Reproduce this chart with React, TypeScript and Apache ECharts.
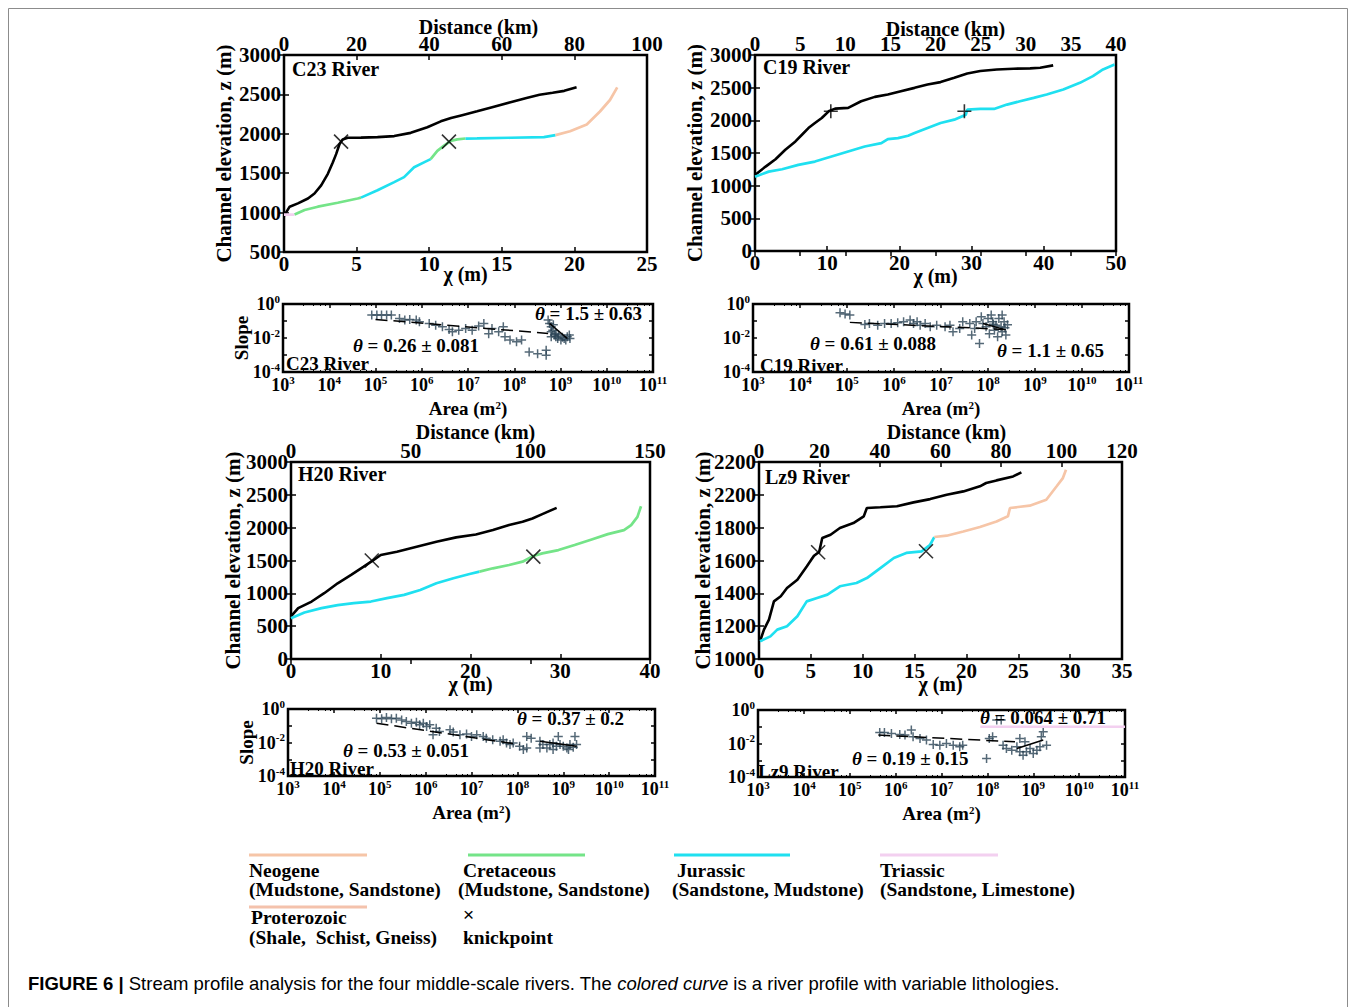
import React, { useEffect, useRef } from "react";
import * as echarts from "echarts";

const SERIF = "'Liberation Serif', 'Times New Roman', Times, serif";
const SANS = "'Liberation Sans', Arial, Helvetica, sans-serif";

// ---------- profile data: [chi (m), elevation z (m)] ----------
const c23Trunk = [[0,958],[0.39,1075],[0.96,1117],[1.65,1179],[2.1,1242],[2.56,1346],[3.02,1492],[3.36,1637],[3.59,1742],[3.82,1867],[4.04,1929],[4.39,1950],[5.3,1952],[6.44,1958],[7.59,1971],[8.73,2012],[9.87,2083],[10.8,2158],[11.5,2200],[12.2,2233],[13.3,2285],[14.4,2340],[15.6,2400],[16.7,2455],[17.6,2495],[18.5,2520],[19.3,2545],[20.15,2590]];
const c23Triassic = [[0,975],[0.73,975]];
const c23Cretaceous1 = [[0.73,975],[1.42,1033],[2.33,1075],[3.7,1125],[5.07,1179],[5.3,1190]];
const c23Jurassic1 = [[5.3,1190],[6.44,1283],[7.59,1387],[8.27,1450],[8.96,1575],[9.64,1637],[10.1,1679]];
const c23Cretaceous2 = [[10.1,1679],[10.56,1783],[11.0,1846],[11.47,1908],[11.93,1929],[12.5,1940]];
const c23Jurassic2 = [[12.5,1940],[13.3,1942],[15.6,1950],[17.9,1958],[18.7,1983]];
const c23Neogene = [[18.7,1983],[19.7,2033],[20.85,2117],[21.76,2283],[22.45,2429],[22.95,2590]];
const c23Knick = [[3.93,1900],[11.36,1900]];

const c19Trunk = [[0,1164],[1.47,1292],[2.84,1405],[4.2,1549],[5.6,1677],[6.5,1779],[7.4,1882],[8.3,1959],[9.25,2036],[10.2,2138],[11.1,2179],[12.9,2190],[14.7,2292],[16.6,2359],[18.4,2395],[20.2,2446],[22.1,2497],[23.9,2549],[25.7,2585],[27.6,2651],[29.4,2718],[31.2,2754],[33.5,2779],[35.8,2790],[38.1,2795],[39.5,2805],[41.3,2841]];
const c19Jurassic = [[0,1138],[1.9,1215],[3.75,1251],[6.0,1318],[8.3,1369],[10.6,1446],[12.9,1523],[15.2,1600],[17.5,1651],[18.4,1713],[19.8,1728],[21.2,1764],[22.1,1805],[23.9,1882],[25.7,1959],[27.6,2010],[29.2,2087],[29.4,2164],[31.2,2174],[33.1,2174],[34.9,2241],[36.7,2292],[38.6,2344],[40.4,2395],[42.7,2472],[45.0,2574],[46.8,2677],[48.2,2779],[49.8,2856]];
const c19Knick = [[10.5,2140],[29.0,2140]];

const h20Trunk = [[0,648],[0.8,774],[2.3,875],[3.7,1002],[5.2,1153],[6.7,1280],[8.1,1406],[9.1,1497],[10.0,1583],[11.8,1634],[14.0,1710],[16.2,1786],[18.4,1852],[20.6,1897],[22.5,1963],[24.3,2039],[25.8,2089],[26.9,2140],[28.0,2206],[29.6,2302]];
const h20Jurassic = [[0,622],[1.5,708],[3.4,774],[5.2,820],[7.0,850],[8.9,875],[10.7,926],[12.6,976],[14.4,1052],[16.2,1153],[18.1,1229],[19.9,1295],[21.0,1330]];
const h20Cretaceous = [[21.0,1330],[22.5,1381],[24.3,1432],[25.8,1482],[27.0,1568],[28.0,1609],[29.8,1659],[31.6,1735],[33.5,1821],[35.3,1902],[37.1,1963],[37.9,2039],[38.6,2165],[39.0,2327]];
const h20Knick = [[9.0,1500],[27.0,1560]];

const lz9Trunk = [[0.1,1108],[0.48,1179],[0.96,1240],[1.44,1351],[2.1,1382],[2.7,1432],[3.7,1483],[4.6,1564],[5.3,1629],[5.8,1652],[6.1,1737],[6.9,1757],[7.8,1798],[9.1,1828],[10.1,1869],[10.4,1920],[11.7,1924],[13.3,1930],[14.9,1954],[16.5,1974],[18.1,2001],[19.7,2021],[21.3,2052],[21.9,2072],[22.9,2088],[24.5,2112],[25.3,2137]];
const lz9Jurassic = [[0.1,1108],[1.1,1138],[1.76,1179],[2.7,1199],[3.7,1260],[4.6,1351],[5.6,1372],[6.6,1392],[7.8,1443],[9.4,1463],[10.4,1493],[11.7,1554],[13.0,1615],[14.2,1646],[15.7,1656],[16.5,1696],[16.9,1743]];
const lz9Neogene = [[16.9,1743],[18.1,1751],[19.7,1777],[21.3,1804],[22.9,1838],[24.0,1869],[24.2,1920],[26.1,1934],[27.7,1970],[28.7,2052],[29.3,2102],[29.6,2153]];
const lz9Knick = [[5.7,1650],[16.1,1656]];
const lz9ZTicks = [1000, 1200, 1400, 1600, 1800, 2000, 2200];
const lz9ZLabels = ["1000", "1200", "1400", "1600", "1800", "2200", "2200"];

// ---------- slope-area data: [area (m2), slope] ----------
const c23SA = [[8.3e4,0.224],[1.07e5,0.224],[1.35e5,0.224],[1.74e5,0.224],[2.2e5,0.224],[3.3e5,0.142],[4.3e5,0.113],[5.5e5,0.124],[7.6e5,0.113],[8.9e5,0.091],[1.45e6,0.072],[2.0e6,0.057],[2.8e6,0.046],[3.9e6,0.032],[4.6e6,0.023],[6.3e6,0.029],[8.9e6,0.036],[1.23e7,0.029],[1.7e7,0.05],[2.2e7,0.072],[2.8e7,0.018],[3.3e7,0.036],[4.6e7,0.023],[5.8e7,0.046],[6.3e7,0.0117],[8.1e7,0.0075],[1.12e8,0.006],[1.44e8,0.0075],[2.1e8,0.0015],[3.2e8,0.0012],[4.9e8,0.0019],[4.9e8,0.00097],[5.4e8,0.113],[5.8e8,0.072],[6.3e8,0.046],[6.3e8,0.023],[6.8e8,0.029],[7.4e8,0.0148],[7.9e8,0.0117],[8.7e8,0.0093],[1.02e9,0.0075],[1.2e9,0.0093],[1.4e9,0.0117],[1.55e9,0.0148],[6.3e8,0.0117],[8.0e8,0.018],[9.0e8,0.0148],[1.1e9,0.011],[1.3e9,0.0075],[1.6e9,0.0093],[7.0e8,0.06]];
const c23FitLow = [[1.0e5,0.124],[5.4e8,0.0185]];
const c23FitHigh = [[5.8e8,0.072],[1.4e9,0.0093]];

const c19SA = [[7.1e4,0.31],[9.1e4,0.26],[1.15e5,0.224],[2.4e5,0.063],[3.0e5,0.072],[4.5e5,0.057],[6.3e5,0.072],[8.7e5,0.072],[1.2e6,0.079],[1.6e6,0.091],[2.2e6,0.113],[2.6e6,0.072],[3.1e6,0.091],[3.6e6,0.057],[4.6e6,0.072],[5.9e6,0.046],[8.1e6,0.057],[1.22e7,0.046],[1.55e7,0.057],[1.8e7,0.023],[2.5e7,0.036],[2.9e7,0.091],[4.1e7,0.072],[4.5e7,0.0148],[5.2e7,0.036],[5.6e7,0.091],[6.6e7,0.0047],[7.2e7,0.178],[7.8e7,0.072],[9.1e7,0.046],[1.0e8,0.142],[1.07e8,0.018],[1.17e8,0.224],[1.26e8,0.091],[1.37e8,0.029],[1.48e8,0.057],[1.6e8,0.0117],[1.7e8,0.142],[1.9e8,0.046],[2.0e8,0.023],[2.2e8,0.091],[2.4e8,0.0148],[2.0e8,0.224],[2.3e8,0.04],[2.6e8,0.06],[1.3e8,0.065]];
const c19FitLow = [[1.15e5,0.083],[2.2e8,0.032]];
const c19FitHigh = [[7.8e7,0.072],[2.4e8,0.03]];

const h20SA = [[8.5e4,0.28],[1.1e5,0.26],[1.4e5,0.31],[1.8e5,0.26],[2.3e5,0.28],[3.0e5,0.224],[3.8e5,0.178],[4.9e5,0.142],[6.3e5,0.162],[7.4e5,0.113],[8.9e5,0.142],[1.05e6,0.091],[1.23e6,0.113],[1.45e6,0.029],[1.7e6,0.072],[2.0e6,0.046],[3.4e6,0.057],[4.0e6,0.042],[5.6e6,0.029],[7.8e6,0.032],[1.0e7,0.023],[1.3e7,0.029],[1.8e7,0.023],[2.1e7,0.018],[2.9e7,0.0148],[4.2e7,0.0117],[4.9e7,0.0148],[5.8e7,0.0093],[6.9e7,0.0075],[8.1e7,0.0093],[1.12e8,0.006],[1.35e8,0.0038],[1.6e8,0.0047],[1.6e8,0.023],[2.0e8,0.018],[3.1e8,0.0117],[3.6e8,0.0075],[4.4e8,0.0047],[5.1e8,0.0075],[6.0e8,0.0093],[7.1e8,0.006],[8.5e8,0.0075],[1.0e9,0.006],[1.2e9,0.0047],[1.4e9,0.0075],[1.65e9,0.0052],[1.95e9,0.0075],[7.8e8,0.023],[1.8e9,0.023],[3.1e8,0.0047],[6.0e8,0.0038],[1.3e9,0.0038]];
const h20FitLow = [[8.5e4,0.142],[1.12e8,0.0075]];
const h20FitHigh = [[3.1e8,0.0117],[1.95e9,0.006]];

const lz9SA = [[4.5e5,0.046],[5.7e5,0.046],[8.1e5,0.04],[1.23e6,0.035],[1.6e6,0.032],[2.2e6,0.063],[2.4e6,0.025],[3.4e6,0.02],[4.7e6,0.016],[6.6e6,0.0087],[9.2e6,0.0079],[1.28e7,0.01],[1.8e7,0.0079],[2.5e7,0.0063],[2.9e7,0.0079],[9.6e7,0.00126],[1.1e8,0.02],[1.3e8,0.025],[1.6e8,0.25],[2.0e8,0.25],[2.2e8,0.0079],[2.6e8,0.005],[3.4e8,0.004],[4.4e8,0.0063],[5.1e8,0.0032],[6.0e8,0.002],[7.1e8,0.0032],[8.5e8,0.005],[1.0e9,0.0025],[1.2e9,0.004],[1.4e9,0.0063],[1.5e9,0.025],[1.65e9,0.05],[1.95e9,0.0079],[5.1e8,0.02],[6.6e8,0.0126]];
const lz9FitLow = [[4.2e5,0.032],[4.0e8,0.0126]];
const lz9FitHigh = [[4.4e8,0.005],[1.65e9,0.016]];
const lz9Triassic = [[7e7,0.1],[1e11,0.1]];

const COLORS = {
  trunk: "#000000",
  neogene: "#f6c5a7",
  cretaceous: "#74e488",
  jurassic: "#1fe0f0",
  triassic: "#f3d0f0",
  proterozoic: "#f4c2ac",
  scatter: "#2a4455",
};

const X_MARK = "path://M0 0L10 10M10 0L0 10";
const PLUS_MARK = "path://M5 0L5 10M0 5L10 5";

const profiles = [
  { grid: { left: 284, top: 55, width: 363, height: 197 }, chiMax: 25, chiInt: 5, distMax: 100, distInt: 20, zMin: 500, zMax: 3000, zInt: 500, zGap: 50, chiGap: 12, distGap: 18, distPad: 26,
    trunk: c23Trunk, knick: c23Knick, mark: X_MARK,
    segs: [[c23Triassic, "triassic"], [c23Cretaceous1, "cretaceous"], [c23Jurassic1, "jurassic"], [c23Cretaceous2, "cretaceous"], [c23Jurassic2, "jurassic"], [c23Neogene, "neogene"]] },
  { grid: { left: 755, top: 55, width: 361, height: 196 }, chiMax: 50, chiInt: 10, distMax: 40, distInt: 5, zMin: 0, zMax: 3000, zInt: 500, zGap: 50, chiGap: 15, distGap: 16, distPad: 20,
    trunk: c19Trunk, knick: c19Knick, mark: PLUS_MARK,
    segs: [[c19Jurassic, "jurassic"]] },
  { grid: { left: 291, top: 462, width: 359, height: 197 }, chiMax: 40, chiInt: 10, distMax: 150, distInt: 50, zMin: 0, zMax: 3000, zInt: 500, zGap: 48, chiGap: 15, distGap: 20, distPad: 10,
    trunk: h20Trunk, knick: h20Knick, mark: X_MARK,
    segs: [[h20Jurassic, "jurassic"], [h20Cretaceous, "cretaceous"]] },
  { grid: { left: 759, top: 462, width: 363, height: 197 }, chiMax: 35, chiInt: 5, distMax: 120, distInt: 20, zMin: 1000, zMax: 2200, zInt: 200, zGap: 46, chiGap: 15, distGap: 20, distPad: 12,
    trunk: lz9Trunk, knick: lz9Knick, mark: X_MARK,
    segs: [[lz9Jurassic, "jurassic"], [lz9Neogene, "neogene"]] },
];

const slopes = [
  { grid: { left: 283, top: 304, width: 370, height: 68 }, pts: c23SA, fits: [[c23FitLow, true], [c23FitHigh, false]], showName: true, extra: null },
  { grid: { left: 753, top: 304, width: 376, height: 68 }, pts: c19SA, fits: [[c19FitLow, true], [c19FitHigh, false]], showName: false, extra: null },
  { grid: { left: 288, top: 709, width: 367, height: 67 }, pts: h20SA, fits: [[h20FitLow, true], [h20FitHigh, false]], showName: true, extra: null },
  { grid: { left: 758, top: 710, width: 367, height: 67 }, pts: lz9SA, fits: [[lz9FitLow, true], [lz9FitHigh, false]], showName: false, extra: lz9Triassic },
];

function buildOption() {
  const bold = { color: "#000", fontFamily: SERIF, fontWeight: "bold" as const };
  const tick = { show: true, inside: true, length: 5, lineStyle: { color: "#000", width: 1.5 } };
  const grids: any[] = [];
  const xAxis: any[] = [];
  const yAxis: any[] = [];
  const series: any[] = [];

  profiles.forEach((p, i) => {
    grids.push({ ...p.grid, show: true, borderColor: "#000", borderWidth: 2.5, backgroundColor: "transparent" });
    xAxis.push({
      gridIndex: i, type: "value", position: "bottom", min: 0, max: p.chiMax, interval: p.chiInt,
      axisLine: { show: false }, axisTick: tick, splitLine: { show: false },
      axisLabel: { ...bold, fontSize: 21, margin: 1 },
      name: "χ (m)", nameLocation: "middle", nameGap: p.chiGap, nameMoveOverlap: false,
      nameTextStyle: { ...bold, fontSize: 20 },
    });
    xAxis.push({
      gridIndex: i, type: "value", position: "top", min: 0, max: p.distMax, interval: p.distInt,
      axisLine: { show: false }, axisTick: tick, splitLine: { show: false },
      axisLabel: { ...bold, fontSize: 21, margin: 1 },
      name: "Distance (km)", nameLocation: "middle", nameGap: p.distGap, nameMoveOverlap: false,
      nameTextStyle: { ...bold, fontSize: 20, padding: [0, 0, 0, p.distPad] },
    });
    const fmt = i === 3
      ? (v: number) => { const k = lz9ZTicks.indexOf(Math.round(v)); return k >= 0 ? lz9ZLabels[k] : String(v); }
      : (v: number) => String(v);
    yAxis.push({
      gridIndex: i, type: "value", position: "left", min: p.zMin, max: p.zMax, interval: p.zInt,
      axisLine: { show: false }, axisTick: tick, splitLine: { show: false },
      axisLabel: { ...bold, fontSize: 21, margin: 3, formatter: fmt },
      name: "Channel elevation, z (m)", nameLocation: "middle", nameGap: p.zGap, nameMoveOverlap: false,
      nameTextStyle: { ...bold, fontSize: 21 },
    });
    yAxis.push({
      gridIndex: i, type: "value", position: "right", min: p.zMin, max: p.zMax, interval: p.zInt,
      axisLine: { show: false }, axisTick: tick, splitLine: { show: false }, axisLabel: { show: false },
    });
    series.push({
      type: "line", xAxisIndex: 2 * i, yAxisIndex: 2 * i, data: p.trunk, symbol: "none",
      lineStyle: { color: COLORS.trunk, width: 2.6 }, silent: true,
    });
    p.segs.forEach(([d, c]: any) => {
      series.push({
        type: "line", xAxisIndex: 2 * i, yAxisIndex: 2 * i, data: d, symbol: "none",
        lineStyle: { color: (COLORS as any)[c], width: 2.7 }, silent: true,
      });
    });
    series.push({
      type: "scatter", xAxisIndex: 2 * i, yAxisIndex: 2 * i, data: p.knick, symbol: p.mark, symbolSize: 14,
      itemStyle: { color: "none", borderColor: "#000", borderWidth: 1.6 }, silent: true, z: 5,
    });
  });

  const supRich = {
    b: { fontSize: 18, fontWeight: "bold", fontFamily: SERIF, color: "#000", lineHeight: 22 },
    s: { fontSize: 11, fontWeight: "bold", fontFamily: SERIF, color: "#000", lineHeight: 11, verticalAlign: "top" },
  };
  const powFmt = (v: number) => `{b|10}{s|${Math.round(Math.log10(v))}}`;
  const evenPowFmt = (v: number) => { const e = Math.round(Math.log10(v)); return e % 2 === 0 ? `{b|10}{s|${e}}` : ""; };

  slopes.forEach((s, j) => {
    const gi = 4 + j;
    grids.push({ ...s.grid, show: true, borderColor: "#000", borderWidth: 2.5, backgroundColor: "transparent" });
    xAxis.push({
      gridIndex: gi, type: "log", logBase: 10, min: 1e3, max: 1e11, position: "bottom",
      axisLine: { show: false }, axisTick: { ...tick, length: 4 }, splitLine: { show: false },
      minorTick: { show: true, splitNumber: 5, length: 2, lineStyle: { color: "#000", width: 1 } },
      axisLabel: { margin: 2, formatter: powFmt, rich: supRich },
      name: "Area (m{s|2})", nameLocation: "middle", nameGap: 27, nameMoveOverlap: false,
      nameTextStyle: { ...bold, fontSize: 19, rich: { s: { fontSize: 11, fontWeight: "bold", fontFamily: SERIF, color: "#000", verticalAlign: "top", lineHeight: 10 } } },
    });
    xAxis.push({
      gridIndex: gi, type: "log", logBase: 10, min: 1e3, max: 1e11, position: "top",
      axisLine: { show: false }, axisTick: { ...tick, length: 4 }, splitLine: { show: false },
      minorTick: { show: true, splitNumber: 5, length: 2, lineStyle: { color: "#000", width: 1 } },
      axisLabel: { show: false },
    });
    yAxis.push({
      gridIndex: gi, type: "log", logBase: 10, min: 1e-4, max: 1, position: "left",
      axisLine: { show: false }, axisTick: { ...tick, length: 4 }, splitLine: { show: false },
      axisLabel: { margin: 3, formatter: evenPowFmt, rich: supRich },
      name: s.showName ? "Slope" : "", nameLocation: "middle", nameGap: 32, nameMoveOverlap: false,
      nameTextStyle: { ...bold, fontSize: 19 },
    });
    yAxis.push({
      gridIndex: gi, type: "log", logBase: 10, min: 1e-4, max: 1, position: "right",
      axisLine: { show: false }, axisTick: { ...tick, length: 4 }, splitLine: { show: false }, axisLabel: { show: false },
    });
    const xi = 8 + 2 * j;
    if (s.extra) {
      series.push({ type: "line", xAxisIndex: xi, yAxisIndex: xi, data: s.extra, symbol: "none", lineStyle: { color: COLORS.triassic, width: 2.5 }, silent: true });
    }
    series.push({
      type: "scatter", xAxisIndex: xi, yAxisIndex: xi, data: s.pts, symbol: PLUS_MARK, symbolSize: 9,
      itemStyle: { color: "none", borderColor: COLORS.scatter, borderWidth: 1.5 }, silent: true,
    });
    s.fits.forEach(([d, dashed]: any) => {
      series.push({
        type: "line", xAxisIndex: xi, yAxisIndex: xi, data: d, symbol: "none", silent: true, z: 4,
        lineStyle: { color: "#000", width: 1.5, type: dashed ? [12, 6] : "solid" },
      });
    });
  });

  const T = (x: number, y: number, text: string, extra: any = {}) => ({
    type: "text", x, y, silent: true, z: 100,
    style: { text, fill: "#000", fontFamily: SERIF, fontWeight: "bold", fontSize: 19, align: "left", verticalAlign: "middle", ...extra },
  });
  const thetaRich = {
    i: { fontStyle: "italic", fontWeight: "bold", fontFamily: SERIF, fontSize: 19, fill: "#000" },
    n: { fontWeight: "bold", fontFamily: SERIF, fontSize: 19, fill: "#000" },
  };
  const theta = (x: number, y: number, val: string) => T(x, y, `{i|θ}{n| = ${val}}`, { rich: thetaRich });
  const L = (x1: number, x2: number, y: number, color: string) => ({
    type: "line", silent: true, shape: { x1, y1: y, x2, y2: y }, style: { stroke: color, lineWidth: 3 },
  });
  const legendFont = { fontSize: 19.5, fontWeight: "bold" };

  const graphic = [
    { type: "rect", silent: true, z: -10, shape: { x: 8.5, y: 8.5, width: 1339, height: 1030 }, style: { fill: "none", stroke: "#8c8c8c", lineWidth: 1 } },
    T(292, 69, "C23 River", { fontSize: 20 }),
    T(763, 67, "C19 River", { fontSize: 20 }),
    T(298, 474, "H20 River", { fontSize: 20 }),
    T(765, 477, "Lz9 River", { fontSize: 20 }),
    T(286, 363, "C23 River"),
    T(760, 365, "C19 River"),
    T(290, 768, "H20 River"),
    T(758, 771, "Lz9 River"),
    theta(535, 313, "1.5 ± 0.63"),
    theta(353, 345, "0.26 ± 0.081"),
    theta(810, 343, "0.61 ± 0.088"),
    theta(997, 350, "1.1 ± 0.65"),
    theta(517, 718, "0.37 ± 0.2"),
    theta(343, 750, "0.53 ± 0.051"),
    theta(980, 717, "0.064 ± 0.71"),
    theta(852, 758, "0.19 ± 0.15"),
    // legend
    L(249, 367, 855, COLORS.neogene),
    L(468, 585, 855, COLORS.cretaceous),
    L(674, 790, 855, COLORS.jurassic),
    L(880, 998, 855, COLORS.triassic),
    L(249, 367, 907, COLORS.proterozoic),
    T(249, 870, "Neogene", legendFont),
    T(249, 889, "(Mudstone, Sandstone)", legendFont),
    T(463, 870, "Cretaceous", legendFont),
    T(458, 889, "(Mudstone, Sandstone)", legendFont),
    T(677, 870, "Jurassic", legendFont),
    T(672, 889, "(Sandstone, Mudstone)", legendFont),
    T(880, 870, "Triassic", legendFont),
    T(880, 889, "(Sandstone, Limestone)", legendFont),
    T(251, 917, "Proterozoic", legendFont),
    T(249, 937, "(Shale,  Schist, Gneiss)", legendFont),
    T(463, 914, "×", { fontSize: 19, fontWeight: "normal", fontFamily: SANS }),
    T(463, 937, "knickpoint", legendFont),
    // caption
    T(28, 983, "{b|FIGURE 6 | }{r|Stream profile analysis for the four middle-scale rivers. The }{i|colored curve}{r| is a river profile with variable lithologies.}", {
      rich: {
        b: { fontFamily: SANS, fontWeight: "bold", fontSize: 18.5, fill: "#000" },
        r: { fontFamily: SANS, fontWeight: "normal", fontSize: 18.5, fill: "#000" },
        i: { fontFamily: SANS, fontWeight: "normal", fontStyle: "italic", fontSize: 18.5, fill: "#000" },
      },
    }),
  ];

  return {
    animation: false,
    backgroundColor: "#ffffff",
    textStyle: { fontFamily: SERIF },
    grid: grids,
    xAxis,
    yAxis,
    series,
    graphic: { elements: graphic },
  };
}

export default function App() {
  const ref = useRef<HTMLDivElement>(null);
  useEffect(() => {
    if (!ref.current) return;
    const chart = echarts.init(ref.current, undefined, { renderer: "svg" });
    chart.setOption(buildOption() as any);
    return () => chart.dispose();
  }, []);
  return <div ref={ref} style={{ position: "fixed", left: 0, top: 0, width: 1356, height: 1007, background: "#fff" }} />;
}
